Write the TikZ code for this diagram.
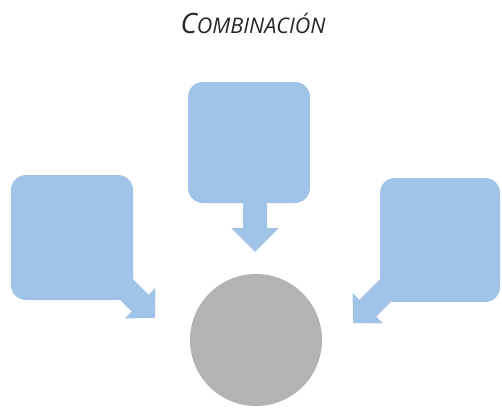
\documentclass[tikz,border=0pt]{standalone}
\usepackage{fontspec}
\setmainfont{Open Sans}
\usetikzlibrary{arrows.meta}
\definecolor{boxblue}{RGB}{159,196,231}
\definecolor{circgray}{RGB}{179,179,179}
\tikzset{
  bluebox/.style={fill=boxblue, draw=none, rounded corners=15pt, inner sep=0pt},
  blockarrow/.style={draw=boxblue, line width=24pt, line cap=butt},
  hub/.style={circle, fill=circgray, draw=none, inner sep=0pt, minimum size=132pt}
}
\begin{document}
\begin{tikzpicture}[x=1pt,y=-1pt]
\useasboundingbox (0,0) rectangle (502,407);
\node[bluebox, minimum width=122pt, minimum height=121pt] (top) at (249,142.5) {};
\node[bluebox, minimum width=122pt, minimum height=125pt] (left) at (72,237.5) {};
\node[bluebox, minimum width=120pt, minimum height=124pt] (right) at (440,240) {};
\node[hub] (hub) at (256,340) {};
\coordinate (ttip) at (255,252);
\coordinate (ltip) at (155,318);
\coordinate (rtip) at (353,323);
\draw[blockarrow, -{Triangle[width=46pt,length=24pt]}] (255,200) -- (ttip);
\draw[blockarrow, -{Triangle[width=42pt,length=21pt]}] (116,279) -- (ltip);
\draw[blockarrow, -{Triangle[width=42pt,length=21pt]}] (392,284) -- (rtip);
\node[font=\itshape, text=black!85] (title) at (253,23)
  {{\fontsize{28pt}{32pt}\selectfont C}{\fontsize{21.5pt}{26pt}\selectfont OMBINACIÓN}};
\end{tikzpicture}
\end{document}
